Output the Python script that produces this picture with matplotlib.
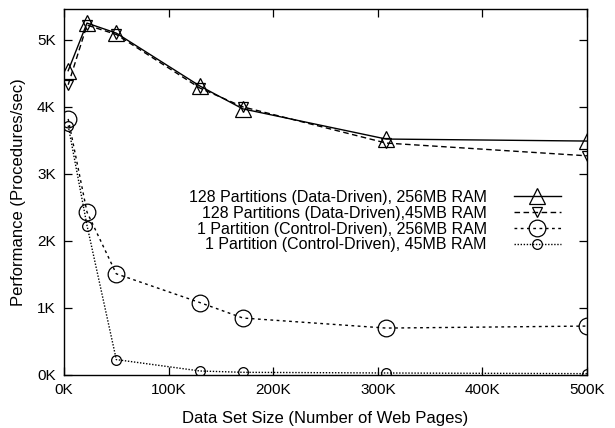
import matplotlib.pyplot as plt
from matplotlib.ticker import FuncFormatter, MultipleLocator

plt.rcParams['font.family'] = ['Liberation Sans', 'DejaVu Sans']

# data set size (web pages)
sizes = [4000, 22000, 50000, 130000, 171000, 308000, 500000]

# performance (procedures/sec)
data_256 = [4540, 5250, 5100, 4310, 3970, 3520, 3490]
data_45 = [4330, 5220, 5080, 4280, 4000, 3460, 3270]
ctrl_256 = [3820, 2430, 1510, 1080, 850, 700, 730]
ctrl_45 = [3720, 2230, 230, 60, 40, 30, 20]

labels = ['128 Partitions (Data-Driven), 256MB RAM',
          '128 Partitions (Data-Driven),45MB RAM',
          '1 Partition (Control-Driven), 256MB RAM',
          '1 Partition (Control-Driven), 45MB RAM']

fig = plt.figure(figsize=(6.15, 4.28), dpi=100)
ax = fig.add_axes([64 / 615, 53 / 428, 523 / 615, 366 / 428])

ax.plot(sizes, data_256, color='black', lw=1.0, ls='-', marker='^',
        markersize=11, markerfacecolor='none', markeredgewidth=0.9, label=labels[0])
ax.plot(sizes, data_45, color='black', lw=1.0, ls=(0, (4, 2.5)), marker='v',
        markersize=7, markerfacecolor='none', markeredgewidth=0.9, label=labels[1])
ax.plot(sizes, ctrl_256, color='black', lw=1.0, ls=(0, (2, 2.5)), marker='o',
        markersize=12, markerfacecolor='none', markeredgewidth=0.9, label=labels[2])
ax.plot(sizes, ctrl_45, color='black', lw=1.0, ls=(0, (1, 1.2)), marker='o',
        markersize=7, markerfacecolor='none', markeredgewidth=0.9, label=labels[3])

ax.set_xlim(0, 500000)
ax.set_ylim(0, 5460)
ax.xaxis.set_major_locator(MultipleLocator(100000))
ax.yaxis.set_major_locator(MultipleLocator(1000))
ax.xaxis.set_major_formatter(FuncFormatter(lambda v, p: '%dK' % round(v / 1000)))
ax.yaxis.set_major_formatter(FuncFormatter(lambda v, p: '%dK' % round(v / 1000)))
ax.tick_params(direction='in', length=6, width=0.9, top=True, right=True,
               labelsize=11, pad=6)
for s in ax.spines.values():
    s.set_linewidth(1.0)

ax.set_xlabel('Data Set Size (Number of Web Pages)', fontsize=12, labelpad=10)
ax.set_ylabel('Performance (Procedures/sec)', fontsize=12, labelpad=8)

ax.legend(loc='upper right', bbox_to_anchor=(569 / 615, 246 / 428),
          bbox_transform=fig.transFigure, frameon=False, markerfirst=False,
          fontsize=11.5, handlelength=2.95, handletextpad=1.7, labelspacing=0.05,
          borderpad=0)
for t in ax.get_legend().get_texts():
    t.set_ha('right')
ax.get_legend()._legend_box.align = 'right'

fig.savefig('out.png', dpi=100)
